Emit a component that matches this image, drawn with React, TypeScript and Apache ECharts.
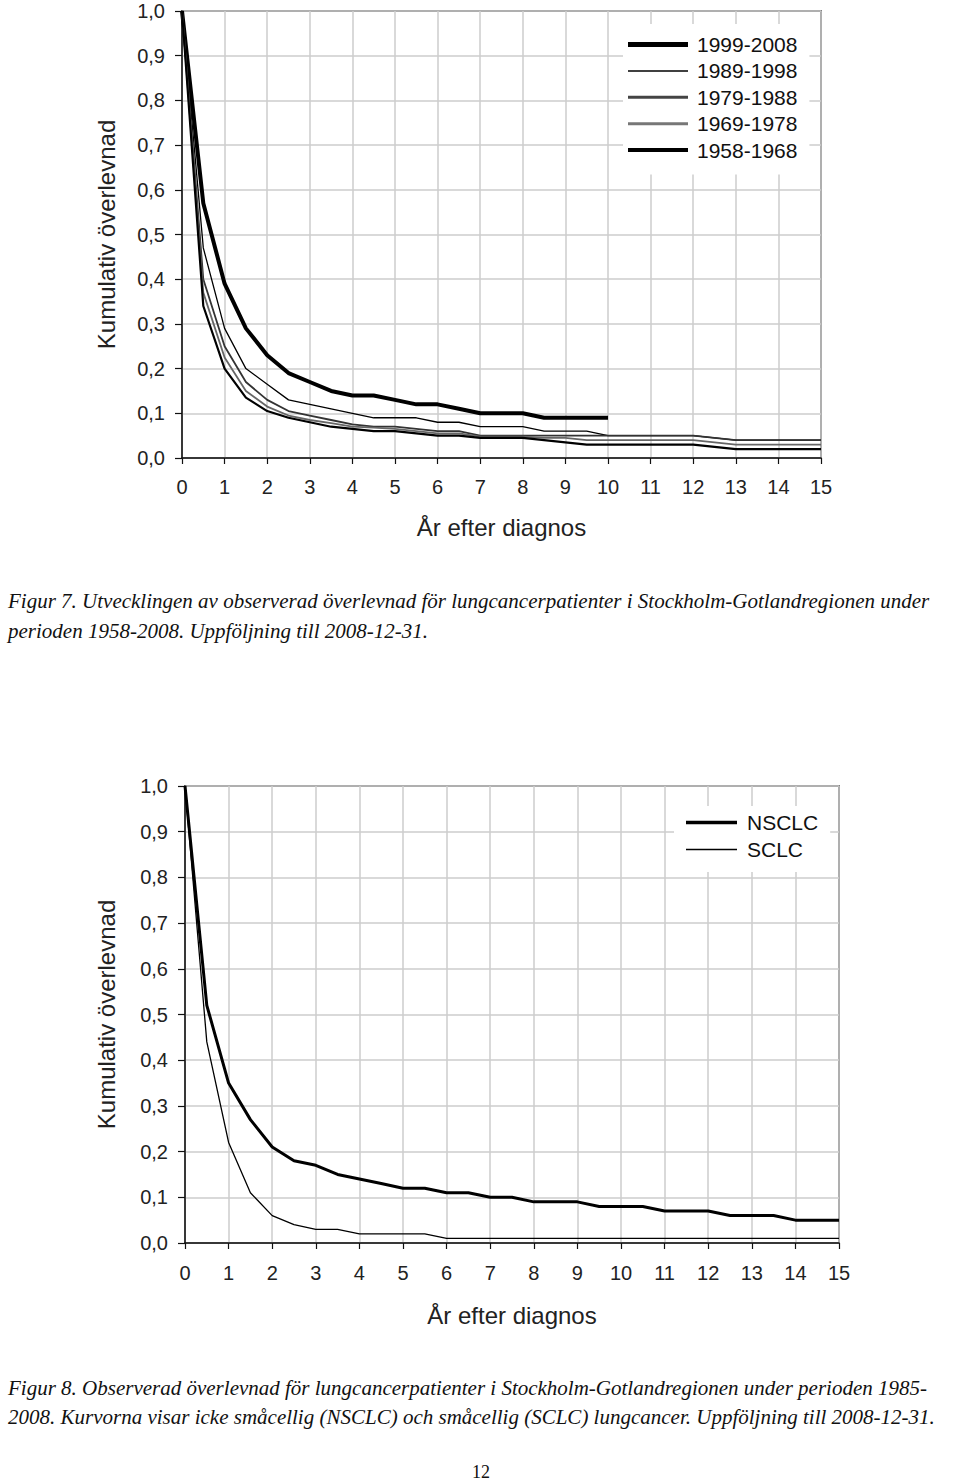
import React, { useEffect, useRef } from "react";
import * as echarts from "echarts";

const years = [0, 0.5, 1, 1.5, 2, 2.5, 3, 3.5, 4, 4.5, 5, 5.5, 6, 6.5, 7, 7.5, 8, 8.5, 9, 9.5, 10, 10.5, 11, 11.5, 12, 12.5, 13, 13.5, 14, 14.5, 15];

// Figur 7
const s1999 = [1.0, 0.57, 0.39, 0.29, 0.23, 0.19, 0.17, 0.15, 0.14, 0.14, 0.13, 0.12, 0.12, 0.11, 0.10, 0.10, 0.10, 0.09, 0.09, 0.09, 0.09];
const s1989 = [1.0, 0.47, 0.29, 0.20, 0.165, 0.13, 0.12, 0.11, 0.10, 0.09, 0.09, 0.09, 0.08, 0.08, 0.07, 0.07, 0.07, 0.06, 0.06, 0.06, 0.05, 0.05, 0.05, 0.05, 0.05, 0.045, 0.04, 0.04, 0.04, 0.04, 0.04];
const s1979 = [1.0, 0.40, 0.25, 0.17, 0.13, 0.105, 0.095, 0.085, 0.075, 0.07, 0.07, 0.065, 0.06, 0.06, 0.05, 0.05, 0.05, 0.05, 0.05, 0.05, 0.05, 0.05, 0.05, 0.05, 0.05, 0.045, 0.04, 0.04, 0.04, 0.04, 0.04];
const s1969 = [1.0, 0.37, 0.225, 0.15, 0.115, 0.095, 0.085, 0.078, 0.07, 0.068, 0.065, 0.06, 0.055, 0.055, 0.048, 0.048, 0.048, 0.045, 0.045, 0.04, 0.04, 0.04, 0.04, 0.04, 0.04, 0.035, 0.03, 0.03, 0.03, 0.03, 0.03];
const s1958 = [1.0, 0.34, 0.20, 0.135, 0.105, 0.09, 0.08, 0.07, 0.065, 0.06, 0.06, 0.055, 0.05, 0.05, 0.045, 0.045, 0.045, 0.04, 0.035, 0.03, 0.03, 0.03, 0.03, 0.03, 0.03, 0.025, 0.02, 0.02, 0.02, 0.02, 0.02];

// Figur 8
const nsclc = [1.0, 0.52, 0.35, 0.27, 0.21, 0.18, 0.17, 0.15, 0.14, 0.13, 0.12, 0.12, 0.11, 0.11, 0.10, 0.10, 0.09, 0.09, 0.09, 0.08, 0.08, 0.08, 0.07, 0.07, 0.07, 0.06, 0.06, 0.06, 0.05, 0.05, 0.05];
const sclc = [1.0, 0.44, 0.22, 0.11, 0.06, 0.04, 0.03, 0.03, 0.02, 0.02, 0.02, 0.02, 0.01, 0.01, 0.01, 0.01, 0.01, 0.01, 0.01, 0.01, 0.01, 0.01, 0.01, 0.01, 0.01, 0.01, 0.01, 0.01, 0.01, 0.01, 0.01];

const legend7 = ["1999-2008", "1989-1998", "1979-1988", "1969-1978", "1958-1968"];
const legend8 = ["NSCLC", "SCLC"];
const xTitle = "År efter diagnos";
const yTitle = "Kumulativ överlevnad";

const caption7 = [
  "Figur 7. Utvecklingen av observerad överlevnad för lungcancerpatienter i Stockholm-Gotlandregionen under",
  "perioden 1958-2008. Uppföljning till 2008-12-31.",
];
const caption8 = [
  "Figur 8. Observerad överlevnad för lungcancerpatienter i Stockholm-Gotlandregionen under perioden 1985-",
  "2008. Kurvorna visar icke småcellig (NSCLC) och småcellig (SCLC) lungcancer. Uppföljning till 2008-12-31.",
];
const pageNumber = "12";

const toPairs = (vals: number[]) => vals.map((v, i) => [years[i], v]);

const SANS = '"Liberation Sans", Arial, sans-serif';
const SERIF = '"Liberation Serif", "DejaVu Serif", serif';

const bar = (w: number, h: number) => `path://M0 0H${w}V${h}H0Z`;

function makeX(gridIndex: number, labelMargin: number, nameGap: number) {
  return {
    type: "value",
    gridIndex,
    min: 0,
    max: 15,
    interval: 1,
    axisLine: { show: true, onZero: false, lineStyle: { color: "#111", width: 1.5 } },
    axisTick: { show: true, length: 6, lineStyle: { color: "#111", width: 1.2 } },
    axisLabel: { margin: labelMargin, fontSize: 20, color: "#222", fontFamily: SANS },
    splitLine: { show: true, lineStyle: { color: "#cdcdcd", width: 1.5 } },
    name: xTitle,
    nameLocation: "middle",
    nameGap,
    nameTextStyle: { fontSize: 24, color: "#222", fontFamily: SANS },
  };
}

function makeY(gridIndex: number, nameGap: number) {
  return {
    type: "value",
    gridIndex,
    min: 0,
    max: 1,
    interval: 0.1,
    axisLine: { show: true, onZero: false, lineStyle: { color: "#111", width: 1.5 } },
    axisTick: { show: true, length: 7, lineStyle: { color: "#111", width: 1.2 } },
    axisLabel: {
      margin: 17,
      fontSize: 20,
      color: "#222",
      fontFamily: SANS,
      formatter: (v: number) => v.toFixed(1).replace(".", ","),
    },
    splitLine: { show: true, lineStyle: { color: "#cdcdcd", width: 1.5 } },
    name: yTitle,
    nameLocation: "middle",
    nameRotate: 90,
    nameGap,
    nameTextStyle: { fontSize: 24, color: "#222", fontFamily: SANS },
  };
}

function line(name: string, vals: number[], idx: number, color: string, width: number) {
  return {
    type: "line",
    name,
    xAxisIndex: idx,
    yAxisIndex: idx,
    data: toPairs(vals),
    symbol: "none",
    lineStyle: { color, width },
    itemStyle: { color },
    z: 3,
  };
}

export default function App() {
  const ref = useRef<HTMLDivElement>(null);
  useEffect(() => {
    if (!ref.current) return;
    const chart = echarts.init(ref.current, null, { renderer: "svg" });
    const capStyle = { fontFamily: SERIF, fontStyle: "italic", fontSize: 21, fill: "#111", verticalAlign: "middle", align: "left" };
    const legendThick7 = [5, 1.5, 3, 3, 4];
    const legendColor7 = ["#000", "#000", "#444", "#777", "#000"];
    const legendThick8 = [3.5, 1.5];
    chart.setOption({
      animation: false,
      backgroundColor: "#fff",
      textStyle: { fontFamily: SANS },
      grid: [
        { left: 182, top: 11, width: 639, height: 447, show: true, borderColor: "#222", borderWidth: 1.5, backgroundColor: "#fff" },
        { left: 185, top: 786, width: 654, height: 457, show: true, borderColor: "#222", borderWidth: 1.5, backgroundColor: "#fff" },
      ],
      xAxis: [makeX(0, 19, 57), makeX(1, 20, 60)],
      yAxis: [makeY(0, 64), makeY(1, 67)],
      legend: [
        {
          data: legend7.map((n, i) => ({ name: n, icon: bar(60, legendThick7[i]), itemStyle: { color: legendColor7[i] } })),
          orient: "vertical",
          left: 623,
          top: 24,
          padding: [10, 12, 14, 5],
          itemWidth: 60,
          itemHeight: 14,
          itemGap: 5.4,
          symbolKeepAspect: true,
          backgroundColor: "#fff",
          textStyle: { fontSize: 21, color: "#111", fontFamily: SANS, padding: [0, 0, 0, 4] },
        },
        {
          data: legend8.map((n, i) => ({ name: n, icon: bar(51, legendThick8[i]), itemStyle: { color: "#000" } })),
          orient: "vertical",
          left: 674,
          top: 806,
          padding: [6, 12, 12, 12],
          itemWidth: 51,
          itemHeight: 14,
          itemGap: 6,
          symbolKeepAspect: true,
          backgroundColor: "#fff",
          textStyle: { fontSize: 21, color: "#111", fontFamily: SANS, padding: [0, 0, 0, 5] },
        },
      ],
      series: [
        line(legend7[0], s1999, 0, "#000", 4),
        line(legend7[1], s1989, 0, "#000", 1.3),
        line(legend7[2], s1979, 0, "#333", 1.8),
        line(legend7[3], s1969, 0, "#666", 1.8),
        line(legend7[4], s1958, 0, "#000", 2.2),
        line(legend8[0], nsclc, 1, "#000", 3),
        line(legend8[1], sclc, 1, "#000", 1.3),
      ],
      graphic: [
        { type: "text", x: 8, y: 601, style: { ...capStyle, text: caption7[0] } },
        { type: "text", x: 8, y: 631, style: { ...capStyle, text: caption7[1] } },
        { type: "text", x: 8, y: 1388, style: { ...capStyle, text: caption8[0] } },
        { type: "text", x: 8, y: 1417, style: { ...capStyle, text: caption8[1] } },
        { type: "text", x: 481, y: 1472, style: { fontFamily: SERIF, fontSize: 18, fill: "#111", verticalAlign: "middle", align: "center", text: pageNumber } },
      ],
    });
    return () => chart.dispose();
  }, []);
  return <div ref={ref} style={{ position: "absolute", left: 0, top: 0, width: 960, height: 1483 }} />;
}
